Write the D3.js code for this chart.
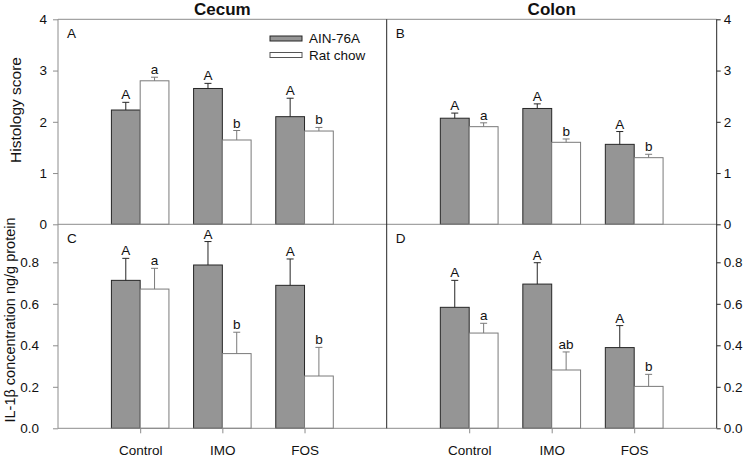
<!DOCTYPE html>
<html>
<head>
<meta charset="utf-8">
<script src="https://cdn.jsdelivr.net/npm/d3@7"></script>
<style>
  html, body { margin: 0; padding: 0; background: #fff; }
  svg { display: block; font-family: "Liberation Sans", Arial, sans-serif; }
</style>
</head>
<body>
<svg id="chart" width="747" height="458"></svg>
<script>
// ---- data ----
const categories = ["Control", "IMO", "FOS"];
const seriesNames = ["AIN-76A", "Rat chow"];
const panelTitles = ["Cecum", "Colon"];
const panelLetters = ["A", "B", "C", "D"];
const histTicks = [0, 1, 2, 3, 4];
const il1Ticks = [0.0, 0.2, 0.4, 0.6, 0.8];

const cecumHistAIN = [2.23, 2.65, 2.10];
const cecumHistAINErr = [0.15, 0.10, 0.36];
const cecumHistChow = [2.80, 1.645, 1.82];
const cecumHistChowErr = [0.07, 0.185, 0.07];
const cecumHistLettersAIN = ["A", "A", "A"];
const cecumHistLettersChow = ["a", "b", "b"];

const colonHistAIN = [2.07, 2.26, 1.56];
const colonHistAINErr = [0.10, 0.09, 0.25];
const colonHistChow = [1.905, 1.60, 1.30];
const colonHistChowErr = [0.075, 0.065, 0.066];
const colonHistLettersAIN = ["A", "A", "A"];
const colonHistLettersChow = ["a", "b", "b"];

const cecumIL1AIN = [0.713, 0.787, 0.689];
const cecumIL1AINErr = [0.106, 0.113, 0.127];
const cecumIL1Chow = [0.671, 0.36, 0.252];
const cecumIL1ChowErr = [0.10, 0.103, 0.138];
const cecumIL1LettersAIN = ["A", "A", "A"];
const cecumIL1LettersChow = ["a", "b", "b"];

const colonIL1AIN = [0.583, 0.695, 0.389];
const colonIL1AINErr = [0.13, 0.103, 0.106];
const colonIL1Chow = [0.459, 0.281, 0.202];
const colonIL1ChowErr = [0.047, 0.087, 0.058];
const colonIL1LettersAIN = ["A", "A", "A"];
const colonIL1LettersChow = ["a", "ab", "b"];

// ---- layout ----
const svg = d3.select("#chart");
const L = 58, M = 386.7, R = 716.7;
const topY0 = 224.3, topY1 = 19.3;
const botY0 = 428.3, botY1 = 224.3;

const grey = "#959595";
const darkLine = "#262626";
const lightLine = "#8c8c8c";

const xLeft = d3.scaleLinear().domain([0, 4]).range([L, M]);
const xRight = d3.scaleLinear().domain([0, 4]).range([M, R]);
const yHist = d3.scaleLinear().domain([0, 4]).range([topY0, topY1]);
const yIL1 = d3.scaleLinear().domain([0, 0.2]).range([botY0, botY0 - 41.5]);

const barW = 0.35; // in category units

const panels = [
  { x: xLeft, y: yHist, a: cecumHistAIN, ae: cecumHistAINErr, c: cecumHistChow, ce: cecumHistChowErr, la: cecumHistLettersAIN, lc: cecumHistLettersChow, letter: panelLetters[0] },
  { x: xRight, y: yHist, a: colonHistAIN, ae: colonHistAINErr, c: colonHistChow, ce: colonHistChowErr, la: colonHistLettersAIN, lc: colonHistLettersChow, letter: panelLetters[1] },
  { x: xLeft, y: yIL1, a: cecumIL1AIN, ae: cecumIL1AINErr, c: cecumIL1Chow, ce: cecumIL1ChowErr, la: cecumIL1LettersAIN, lc: cecumIL1LettersChow, letter: panelLetters[2] },
  { x: xRight, y: yIL1, a: colonIL1AIN, ae: colonIL1AINErr, c: colonIL1Chow, ce: colonIL1ChowErr, la: colonIL1LettersAIN, lc: colonIL1LettersChow, letter: panelLetters[3] }
];

panels.forEach((p, pi) => {
  const g = svg.append("g");
  const y0 = p.y(0);
  const sets = [
    { v: p.a, e: p.ae, l: p.la, off: -barW, fill: grey, stroke: darkLine, estroke: darkLine },
    { v: p.c, e: p.ce, l: p.lc, off: 0, fill: "#ffffff", stroke: "#7a7a7a", estroke: "#7a7a7a" }
  ];
  sets.forEach(s => {
    categories.forEach((cat, i) => {
      const x0 = p.x(i + 1 + s.off), x1 = p.x(i + 1 + s.off + barW);
      const yt = p.y(s.v[i]);
      g.append("rect")
        .attr("x", x0).attr("y", yt)
        .attr("width", x1 - x0).attr("height", y0 - yt)
        .attr("fill", s.fill).attr("stroke", s.stroke).attr("stroke-width", 1);
      const cx = (x0 + x1) / 2;
      const ye = p.y(s.v[i] + s.e[i]);
      g.append("line").attr("x1", cx).attr("x2", cx).attr("y1", yt).attr("y2", ye)
        .attr("stroke", s.estroke).attr("stroke-width", 1);
      g.append("line").attr("x1", cx - 3.5).attr("x2", cx + 3.5).attr("y1", ye).attr("y2", ye)
        .attr("stroke", s.estroke).attr("stroke-width", 1);
      g.append("text").attr("x", cx).attr("y", ye - 3)
        .attr("text-anchor", "middle").attr("font-size", 13.5).attr("fill", "#111")
        .text(s.l[i]);
    });
  });
  // panel letter
  g.append("text").attr("x", p.x(0) + 9).attr("y", p.y === yHist ? 38 : 243)
    .attr("font-size", 13.5).attr("fill", "#111").text(p.letter);
});

// ---- frame lines ----
const frame = svg.append("g").attr("fill", "none");
frame.append("line").attr("x1", L).attr("x2", R).attr("y1", topY1).attr("y2", topY1).attr("stroke", lightLine);
frame.append("line").attr("x1", L).attr("x2", R).attr("y1", topY0).attr("y2", topY0).attr("stroke", lightLine);
frame.append("line").attr("x1", L).attr("x2", R).attr("y1", botY0).attr("y2", botY0).attr("stroke", lightLine);
frame.append("line").attr("x1", L).attr("x2", L).attr("y1", topY1).attr("y2", botY0).attr("stroke", lightLine);
frame.append("line").attr("x1", M).attr("x2", M).attr("y1", topY1).attr("y2", botY0).attr("stroke", darkLine);
frame.append("line").attr("x1", R).attr("x2", R).attr("y1", topY1).attr("y2", botY0).attr("stroke", darkLine);

// ---- axes ----
function styleAxis(sel, color, fs) {
  sel.select(".domain").remove();
  sel.selectAll(".tick line").attr("stroke", color);
  sel.selectAll(".tick text").attr("font-size", fs || 13.5).attr("fill", "#111")
    .attr("font-family", "Liberation Sans, Arial, sans-serif");
}
svg.append("g").attr("transform", `translate(${L},0)`)
  .call(d3.axisLeft(yHist).tickValues(histTicks).tickSize(5).tickPadding(6).tickFormat(d3.format("d")))
  .call(s => styleAxis(s, lightLine));
svg.append("g").attr("transform", `translate(${R},0)`)
  .call(d3.axisRight(yHist).tickValues(histTicks).tickSize(4).tickPadding(3).tickFormat(d3.format("d")))
  .call(s => styleAxis(s, darkLine));
svg.append("g").attr("transform", `translate(${L},0)`)
  .call(d3.axisLeft(yIL1).tickValues(il1Ticks).tickSize(5).tickPadding(14).tickFormat(d3.format(".1f")))
  .call(s => styleAxis(s, lightLine));
svg.append("g").attr("transform", `translate(${R},0)`)
  .call(d3.axisRight(yIL1).tickValues(il1Ticks).tickSize(4).tickPadding(3).tickFormat(d3.format(".1f")))
  .call(s => styleAxis(s, darkLine));

[xLeft, xRight].forEach(xs => {
  svg.append("g").attr("transform", `translate(0,${botY0})`)
    .call(d3.axisBottom(xs).tickValues([1, 2, 3]).tickSize(5).tickPadding(12).tickFormat(d => categories[d - 1]))
    .call(s => styleAxis(s, lightLine, 13.5));
});

// ---- titles ----
svg.append("text").attr("x", (L + M) / 2).attr("y", 15).attr("text-anchor", "middle")
  .attr("font-size", 17).attr("font-weight", "bold").attr("fill", "#111").text(panelTitles[0]);
svg.append("text").attr("x", (M + R) / 2).attr("y", 15).attr("text-anchor", "middle")
  .attr("font-size", 17).attr("font-weight", "bold").attr("fill", "#111").text(panelTitles[1]);

svg.append("text").attr("transform", "translate(21,110) rotate(-90)").attr("text-anchor", "middle")
  .attr("font-size", 15.5).attr("fill", "#111").text("Histology score");
svg.append("text").attr("transform", "translate(15,320) rotate(-90)").attr("text-anchor", "middle")
  .attr("font-size", 14.5).attr("fill", "#111").text("IL-1β concentration ng/g protein");

// ---- legend ----
const leg = svg.append("g");
const legFill = [grey, "#ffffff"];
const legStroke = [darkLine, "#555"];
seriesNames.forEach((n, i) => {
  const yy = 38.5 + i * 16.5;
  leg.append("rect").attr("x", 270).attr("y", yy - 2.5).attr("width", 32).attr("height", 5)
    .attr("fill", legFill[i]).attr("stroke", legStroke[i]);
  leg.append("text").attr("x", 309).attr("y", yy + 4.5).attr("font-size", 13.5).attr("fill", "#111").text(n);
});
</script>
</body>
</html>
